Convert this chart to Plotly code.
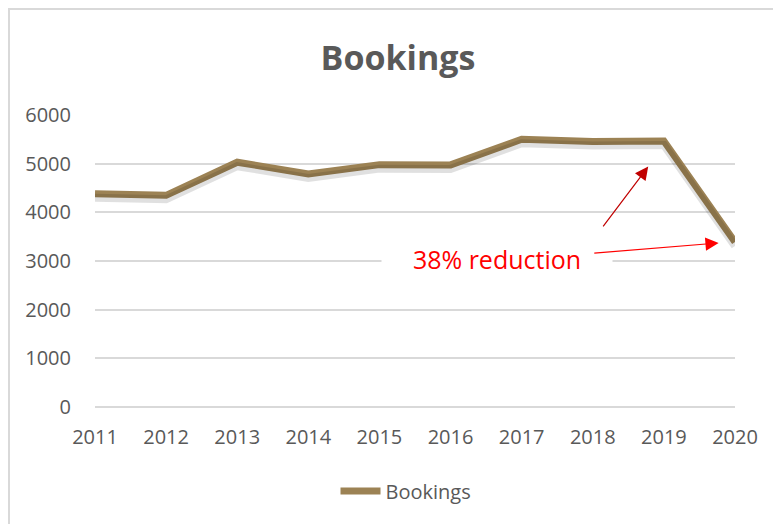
import plotly.graph_objects as go

years = [2011, 2012, 2013, 2014, 2015, 2016, 2017, 2018, 2019, 2020]
bookings = [4380, 4350, 5030, 4790, 4980, 4975, 5500, 5455, 5465, 3390]
y_ticks = [0, 1000, 2000, 3000, 4000, 5000, 6000]
series_name = "Bookings"
title_text = "Bookings"
note_text = "38% reduction"

LINE = "rgb(156,130,84)"
GRID = "#D9D9D9"
TXT = "#595959"
FONT = "Open Sans"

OFF = 8  # default page body margin
W, H = 781 - OFF, 524 - OFF
# target page coords: plot x 95..735, y 115..407
ml, mt = 95 - OFF, 115 - OFF
mr = W - (735 - OFF)
mb = H - (407 - OFF)
pw, ph = W - ml - mr, H - mt - mb


def py(page_y):
    """page y pixel -> paper y"""
    return ((407 - page_y)) / ph


def px(page_x):
    return (page_x - 95) / pw


fig = go.Figure()

# soft shadow under the line (same data on a slightly shifted hidden axis)
fig.add_trace(go.Scatter(
    x=years, y=bookings, mode="lines", yaxis="y2",
    line=dict(color="rgba(0,0,0,0.12)", width=8), showlegend=False, hoverinfo="skip"))

fig.add_trace(go.Scatter(
    x=years, y=bookings, mode="lines", name=series_name,
    line=dict(color=LINE, width=7)))

shift = 6000 * 4 / ph

fig.update_layout(
    width=W, height=H,
    margin=dict(l=ml, r=mr, t=mt, b=mb),
    paper_bgcolor="white", plot_bgcolor="white",
    font=dict(family=FONT, color=TXT, size=20),
    title=dict(text="<b>" + title_text + "</b>", x=px(398) * pw / W + ml / W, xanchor="center",
               y=(H - (58 - OFF)) / H, yanchor="middle",
               font=dict(size=34, color=TXT, family=FONT)),
    xaxis=dict(range=[years[0], years[-1]], tickvals=years, ticktext=[str(v) for v in years],
               showgrid=False, zeroline=False, showline=False,
               ticks="outside", ticklen=12, tickcolor="rgba(0,0,0,0)",
               tickfont=dict(size=20, color=TXT)),
    yaxis=dict(range=[0, 6000], tickvals=y_ticks, showgrid=True, gridcolor=GRID, gridwidth=1.5,
               zeroline=True, zerolinecolor=GRID, zerolinewidth=1.5, showline=False,
               ticks="outside", ticklen=19, tickcolor="rgba(0,0,0,0)",
               tickfont=dict(size=20, color=TXT)),
    yaxis2=dict(range=[shift, 6000 + shift], overlaying="y", visible=False),
    legend=dict(orientation="h", x=px(406), xanchor="center", y=py(491),
                yanchor="middle", font=dict(size=20, color=TXT), itemwidth=40),
    showlegend=True,
)

# chart border (Excel-like)
fig.add_shape(type="rect", xref="paper", yref="paper",
              x0=px(OFF + 1), x1=px(W + OFF + 20),
              y0=py(H + OFF + 20), y1=py(9),
              line=dict(color=GRID, width=2), fillcolor="rgba(0,0,0,0)", layer="below")

# label with white box covering the gridline
fig.add_annotation(x=2016.65, y=3040, xref="x", yref="y", text=note_text, showarrow=False,
                   font=dict(size=25, color="#FF0000", family=FONT),
                   bgcolor="white", width=230, height=36, borderpad=0)

# arrows
fig.add_annotation(x=2018.78, y=4940, ax=2018.13, ay=3680, xref="x", yref="y",
                   axref="x", ayref="y", text="", showarrow=True,
                   arrowhead=2, arrowsize=2.2, arrowwidth=1.2, arrowcolor="#C00000")
fig.add_annotation(x=2019.77, y=3370, ax=2018.0, ay=3160, xref="x", yref="y",
                   axref="x", ayref="y", text="", showarrow=True,
                   arrowhead=2, arrowsize=2.2, arrowwidth=1.2, arrowcolor="#FF0000")

fig.write_html("out.html")
